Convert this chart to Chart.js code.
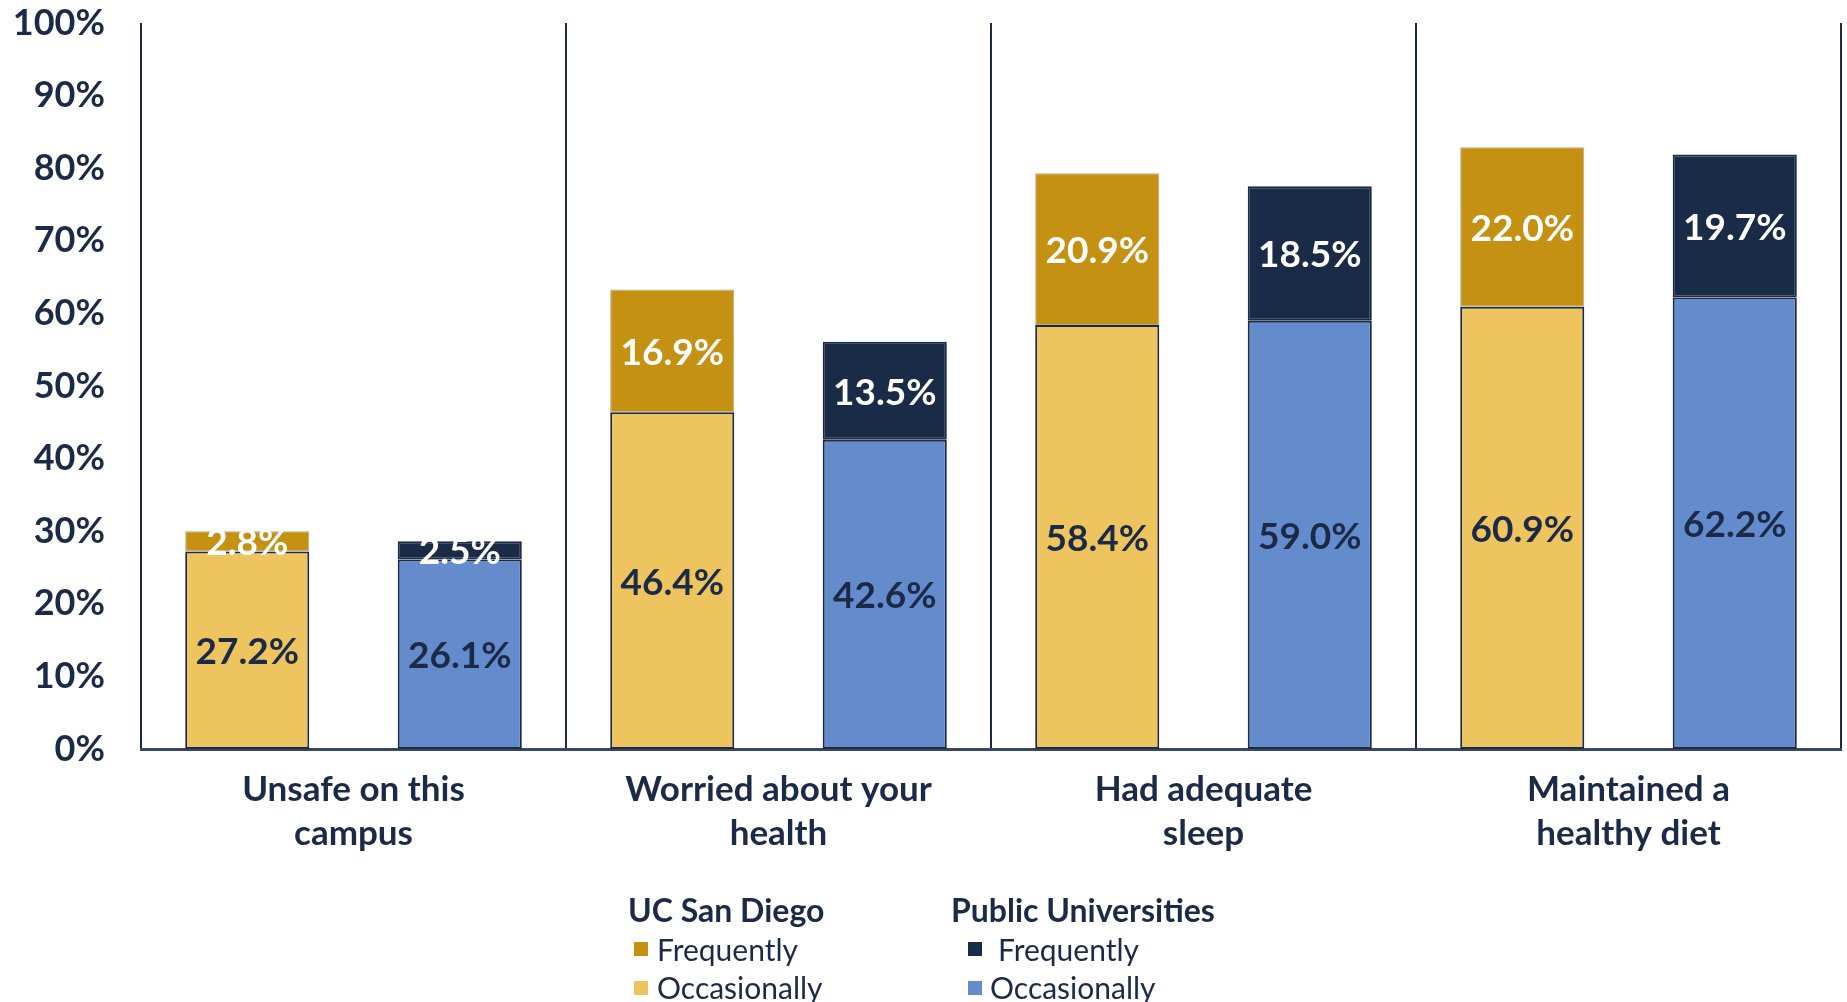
<!DOCTYPE html>
<html>
<head>
<meta charset="utf-8">
<script src="https://cdn.jsdelivr.net/npm/chart.js@4/dist/chart.umd.min.js"></script>
<style>
  html, body { margin: 0; padding: 0; background: #ffffff; }
  #wrap { position: relative; width: 1847px; height: 1002px; overflow: hidden; font-family: Lato, "Noto Sans", sans-serif; color: #1b2a47; }
  #wrap canvas { position: absolute; left: 0; top: 0; }
  .lg { position: absolute; white-space: nowrap; line-height: 1; }
  .lt { font-weight: 700; font-size: 32px; }
  .li { font-weight: 400; font-size: 30px; }
  .sw { position: absolute; width: 14px; height: 14px; }
</style>
</head>
<body>
<div id="wrap">
  <canvas id="c" width="1847" height="1002"></canvas>
  <div class="lg lt" style="left:628px; top:894px;">UC San Diego</div>
  <div class="sw" style="left:634px; top:942px; background:#c49112;"></div>
  <div class="lg li" style="left:657px; top:934px;">Frequently</div>
  <div class="sw" style="left:634px; top:981px; background:#eec45f;"></div>
  <div class="lg li" style="left:657px; top:972px;">Occasionally</div>
  <div class="lg lt" style="left:951px; top:894px;">Public Universities</div>
  <div class="sw" style="left:968px; top:942px; background:#1a2b48;"></div>
  <div class="lg li" style="left:998px; top:934px;">Frequently</div>
  <div class="sw" style="left:968px; top:981px; background:#648bcb;"></div>
  <div class="lg li" style="left:990px; top:972px;">Occasionally</div>
</div>
<script>
const categories = [
  ["Unsafe on this", "campus"],
  ["Worried about your", "health"],
  ["Had adequate", "sleep"],
  ["Maintained a", "healthy diet"]
];
const ucsdOccasionally = [27.2, 46.4, 58.4, 60.9];
const ucsdFrequently = [2.8, 16.9, 20.9, 22.0];
const publicOccasionally = [26.1, 42.6, 59.0, 62.2];
const publicFrequently = [2.5, 13.5, 18.5, 19.7];
const yMin = 0, yMax = 100, yStep = 10;

const NAVY = '#1b2a47';
const FONT = 'Lato, "Noto Sans", sans-serif';
const HEAVY = '700';

const labelColors = [NAVY, '#ffffff', NAVY, '#ffffff'];

const barLabels = {
  id: 'barLabels',
  afterDatasetsDraw(chart) {
    const ctx = chart.ctx;
    ctx.save();
    ctx.font = HEAVY + ' 37px ' + FONT;
    ctx.textAlign = 'center';
    ctx.textBaseline = 'middle';
    chart.data.datasets.forEach((ds, di) => {
      const meta = chart.getDatasetMeta(di);
      meta.data.forEach((el, i) => {
        const v = ds.data[i];
        ctx.fillStyle = labelColors[di];
        ctx.fillText(v.toFixed(1) + '%', el.x, (el.y + el.base) / 2 + 2);
      });
    });
    ctx.restore();
  }
};

const common = { borderColor: NAVY, borderWidth: 2, borderSkipped: false, categoryPercentage: 1.0, barPercentage: 0.584 };

new Chart(document.getElementById('c'), {
  type: 'bar',
  data: {
    labels: categories,
    datasets: [
      Object.assign({ label: 'UC San Diego Occasionally', data: ucsdOccasionally, backgroundColor: '#eec45f', stack: 'ucsd' }, common),
      Object.assign({ label: 'UC San Diego Frequently', data: ucsdFrequently, backgroundColor: '#c49112', stack: 'ucsd' }, common, { borderColor: '#b0a890', borderWidth: 1 }),
      Object.assign({ label: 'Public Universities Occasionally', data: publicOccasionally, backgroundColor: '#648bcb', stack: 'public' }, common),
      Object.assign({ label: 'Public Universities Frequently', data: publicFrequently, backgroundColor: '#1a2b48', stack: 'public' }, common)
    ]
  },
  options: {
    responsive: false,
    animation: false,
    events: [],
    layout: { padding: { left: 0, right: 6, top: 23, bottom: 0 } },
    plugins: { legend: { display: false }, tooltip: { enabled: false }, title: { display: false } },
    scales: {
      x: {
        stacked: true,
        offset: true,
        grid: { display: true, offset: true, color: NAVY, lineWidth: 2, drawTicks: false },
        border: { display: true, color: '#3a4763', width: 3 },
        ticks: {
          autoSkip: false, maxRotation: 0, minRotation: 0, padding: 18,
          color: NAVY, font: { family: FONT, size: 35, weight: HEAVY, lineHeight: 1.27 }
        },
        afterFit(scale) { scale.height = 1002 - 749; scale.paddingTop = 0; scale.paddingBottom = 0; }
      },
      y: {
        stacked: true,
        min: yMin, max: yMax,
        grid: { display: false },
        border: { display: false },
        ticks: {
          stepSize: yStep, padding: 28,
          color: NAVY, font: { family: FONT, size: 36, weight: HEAVY },
          callback: v => v + '%'
        },
        afterFit(scale) { scale.width = 141; scale.paddingTop = 0; scale.paddingBottom = 0; }
      }
    }
  },
  plugins: [barLabels]
});
</script>
</body>
</html>
